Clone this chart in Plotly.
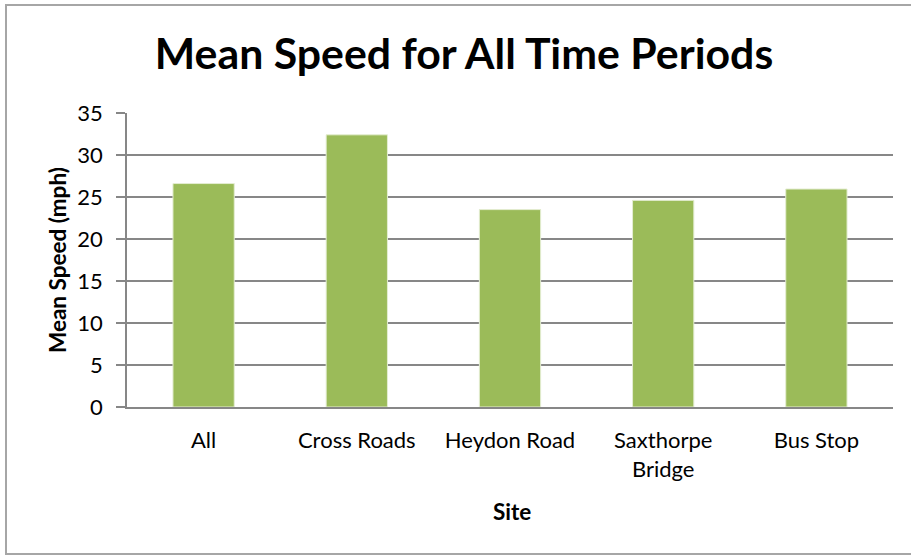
import plotly.graph_objects as go

sites = ["All", "Cross Roads", "Heydon Road", "Saxthorpe<br>Bridge", "Bus Stop"]
mean_speed = [26.6, 32.4, 23.5, 24.6, 25.95]
y_ticks = [0, 5, 10, 15, 20, 25, 30, 35]

W, H = 911, 556
L, R, T, B = 127, 18, 113, 149
pw, ph = W - L - R, H - T - B

def px_x(x):
    return (x - L) / pw

def px_y(y):
    return (H - B - y) / ph

FONT = "Lato, 'Open Sans', sans-serif"
GRID = "#878787"

fig = go.Figure()
fig.add_trace(go.Bar(
    x=sites, y=mean_speed,
    marker=dict(color="#9BBB59", line=dict(color="#E4EDD2", width=1)),
    width=0.4,
))

fig.update_layout(
    width=W, height=H,
    margin=dict(l=L, r=R, t=T, b=B, pad=0),
    paper_bgcolor="white", plot_bgcolor="white",
    showlegend=False,
    font=dict(family=FONT, color="black"),
    title=dict(text="<b>Mean Speed for All Time Periods</b>",
               x=464 / W, xanchor="center", y=1 - 54 / H, yanchor="middle",
               yref="container", xref="container",
               font=dict(size=42.8, family=FONT, color="black")),
    xaxis=dict(showline=True, linecolor=GRID, linewidth=1.5,
               ticks="", tickfont=dict(size=22, family=FONT, color="black"),
               ticklabelstandoff=13,
               showgrid=False, fixedrange=True),
    yaxis=dict(range=[0, 35], tickvals=y_ticks, showline=True,
               linecolor=GRID, linewidth=1.5, ticks="outside", ticklen=9,
               tickcolor=GRID, tickwidth=1.5, ticklabelstandoff=9,
               showgrid=True, gridcolor=GRID, gridwidth=1.5,
               zeroline=False, fixedrange=True,
               tickfont=dict(size=22, family=FONT, color="black")),
    annotations=[
        dict(text="<b>Mean Speed (mph)</b>", textangle=-90,
             x=px_x(57), y=0.5, xref="paper", yref="paper",
             xanchor="center", yanchor="middle", showarrow=False,
             font=dict(size=22.5, family=FONT, color="black")),
        dict(text="<b>Site</b>", x=0.503, y=px_y(511), xref="paper", yref="paper",
             xanchor="center", yanchor="middle", showarrow=False,
             font=dict(size=22.5, family=FONT, color="black")),
    ],
    shapes=[dict(type="rect", xref="paper", yref="paper",
                 x0=px_x(6), x1=px_x(918), y0=px_y(554), y1=px_y(5),
                 line=dict(color="#a6a6a6", width=2), layer="below")],
)

fig.write_html("out.html", config={"displayModeBar": False},
               post_script="document.body.style.margin='0px';document.body.style.overflow='hidden';")
